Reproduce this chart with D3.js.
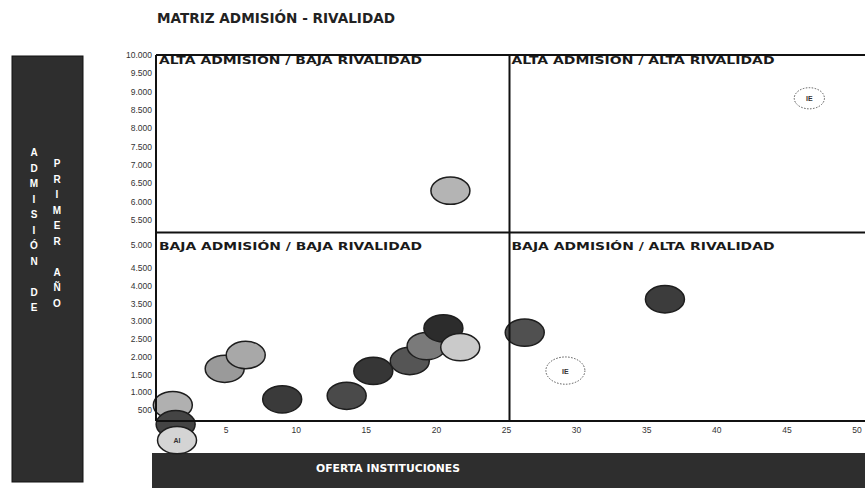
<!DOCTYPE html>
<html>
<head>
<meta charset="utf-8">
<script src="https://cdn.jsdelivr.net/npm/d3@7"></script>
<style>
  body { margin:0; background:#fff; }
  text { font-family: "Liberation Sans", Arial, sans-serif; }
</style>
</head>
<body>
<svg id="chart"></svg>
<script>
// datos
var oferta    = [21.0, 46.6, 36.3, 26.3, 29.2, 4.9, 6.4, 9.0, 13.6, 15.5, 18.1, 19.3, 20.5, 21.7, 1.2, 1.4, 1.5];
var admision  = [6300, 8820, 3620, 2680, 1610, 1660, 2050, 800, 900, 1600, 1880, 2300, 2800, 2270, 640, 100, -350];
var tamano    = [10, 6, 10, 10, 10, 10, 10, 10, 10, 10, 10, 10, 10, 10, 10, 10, 10];
var etiquetas = ["", "IE", "", "", "IE", "", "", "", "", "", "", "", "", "", "", "", "AI"];
var tonos     = ["#b4b4b4", "#ffffff", "#3c3c3c", "#505050", "#ffffff", "#9a9a9a", "#a8a8a8", "#3a3a3a",
                 "#4a4a4a", "#363636", "#555555", "#7a7a7a", "#2c2c2c", "#cacaca", "#b0b0b0", "#444444", "#d4d4d4"];
var xTicks = [5, 10, 15, 20, 25, 30, 35, 40, 45, 50];
var yTicks = [500, 1000, 1500, 2000, 2500, 3000, 3500, 4000, 4500, 5000, 5500, 6000, 6500, 7000, 7500, 8000, 8500, 9000, 9500, 10000];
var cuadrantes = [
  {t:"ALTA ADMISION / BAJA RIVALIDAD", qx:0, qy:10000},
  {t:"ALTA ADMISIÓN / ALTA RIVALIDAD", qx:25, qy:10000},
  {t:"BAJA ADMISIÓN / BAJA RIVALIDAD", qx:0, qy:5250},
  {t:"BAJA ADMISIÓN / ALTA RIVALIDAD", qx:25, qy:5250}
];

var W = 865, H = 488;
var pLeft = 156, pTop = 55, pBottom = 421;

var svg = d3.select("#chart").attr("width", W).attr("height", H);

var x = d3.scaleLinear().domain([0, 50]).range([156, 857]);
// eje vertical del original no es uniforme: hueco alrededor de la linea media
var y = d3.scaleLinear().domain([500, 4500, 5000, 5500, 10000]).range([410, 268, 245, 220, 55]);
var r = d3.scaleSqrt().domain([0, 10]).range([0, 19.5]);

// titulo
svg.append("text").attr("x", 157).attr("y", 23)
  .attr("textLength", 238).attr("lengthAdjust", "spacingAndGlyphs")
  .style("font-family", "'DejaVu Sans', sans-serif")
  .style("font-size", "14.5px").style("font-weight", "bold").style("fill", "#222")
  .text("MATRIZ ADMISIÓN - RIVALIDAD");

// barra izquierda
svg.append("rect").attr("x", 12).attr("y", 56).attr("width", 71).attr("height", 426)
  .style("fill", "#2e2e2e").style("stroke", "#111");
var col1 = "ADMISIÓN DE".split(""), col2 = "PRIMER AÑO".split("");
svg.selectAll("text.c1").data(col1).enter().append("text").attr("class", "c1")
  .attr("x", 34).attr("y", function(d, i){ return 156 + i*15.5; })
  .attr("text-anchor", "middle").style("font-size", "10px").style("font-weight", "bold")
  .style("fill", "#fff").text(function(d){ return d; });
svg.selectAll("text.c2").data(col2).enter().append("text").attr("class", "c2")
  .attr("x", 57).attr("y", function(d, i){ return 167 + i*15.5; })
  .attr("text-anchor", "middle").style("font-size", "10px").style("font-weight", "bold")
  .style("fill", "#fff").text(function(d){ return d; });

// barra inferior
svg.append("rect").attr("x", 152).attr("y", 453).attr("width", W - 152).attr("height", 40)
  .style("fill", "#2e2e2e");
svg.append("text").attr("x", 316).attr("y", 472)
  .attr("textLength", 144).attr("lengthAdjust", "spacingAndGlyphs")
  .style("font-family", "'DejaVu Sans', sans-serif")
  .style("font-size", "10px").style("font-weight", "bold").style("fill", "#fff")
  .text("OFERTA INSTITUCIONES");

// ticks
var fmt = function(v){ return d3.format(",")(v).replace(/,/g, "."); };
svg.selectAll("text.yt").data(yTicks).enter().append("text").attr("class", "yt")
  .attr("x", 152).attr("y", function(d){ return y(d) + 3; }).attr("text-anchor", "end")
  .style("font-size", "8.5px").style("fill", "#333").text(fmt);
svg.selectAll("text.xt").data(xTicks).enter().append("text").attr("class", "xt")
  .attr("x", function(d){ return x(d); }).attr("y", 433).attr("text-anchor", "middle")
  .style("font-size", "8.5px").style("fill", "#333").text(function(d){ return d; });

// burbujas
var g = svg.selectAll("g.b").data(oferta).enter().append("g").attr("class", "b")
  .attr("transform", function(d, i){ return "translate(" + x(d) + "," + y(admision[i]) + ")"; });
g.append("ellipse")
  .attr("rx", function(d, i){ return r(tamano[i]); })
  .attr("ry", function(d, i){ return r(tamano[i]) * 0.7; })
  .style("fill", function(d, i){ return tonos[i]; })
  .style("stroke", function(d, i){ return etiquetas[i] == "IE" ? "#555" : "#1e1e1e"; })
  .style("stroke-width", function(d, i){ return etiquetas[i] == "IE" ? 1 : 1.5; })
  .style("stroke-dasharray", function(d, i){ return etiquetas[i] == "IE" ? "1.5,1.5" : null; });
g.append("text").attr("text-anchor", "middle").attr("dy", 3)
  .style("font-size", "7px").style("font-weight", "bold").style("fill", "#333")
  .text(function(d, i){ return etiquetas[i]; });

// marco y lineas de cuadrante
var lc = "#111";
svg.append("line").attr("x1", pLeft).attr("x2", W).attr("y1", pTop).attr("y2", pTop).style("stroke", lc).style("stroke-width", 2);
svg.append("line").attr("x1", pLeft).attr("x2", pLeft).attr("y1", pTop).attr("y2", pBottom).style("stroke", lc).style("stroke-width", 2);
svg.append("line").attr("x1", pLeft).attr("x2", W).attr("y1", pBottom).attr("y2", pBottom).style("stroke", lc).style("stroke-width", 2);
svg.append("line").attr("x1", x(25) + 3).attr("x2", x(25) + 3).attr("y1", pTop).attr("y2", pBottom).style("stroke", lc).style("stroke-width", 2);
svg.append("line").attr("x1", pLeft).attr("x2", W).attr("y1", y(5250)).attr("y2", y(5250)).style("stroke", lc).style("stroke-width", 2);

svg.selectAll("text.q").data(cuadrantes).enter().append("text").attr("class", "q")
  .attr("x", function(d){ return x(d.qx) + (d.qx ? 5 : 3); })
  .attr("y", function(d){ return y(d.qy) + (d.qy == 10000 ? 9 : 17); })
  .attr("textLength", 263).attr("lengthAdjust", "spacingAndGlyphs")
  .style("font-family", "'DejaVu Sans', sans-serif")
  .style("font-size", "10.5px").style("font-weight", "bold").style("fill", "#1a1a1a")
  .text(function(d){ return d.t; });
</script>
</body>
</html>
